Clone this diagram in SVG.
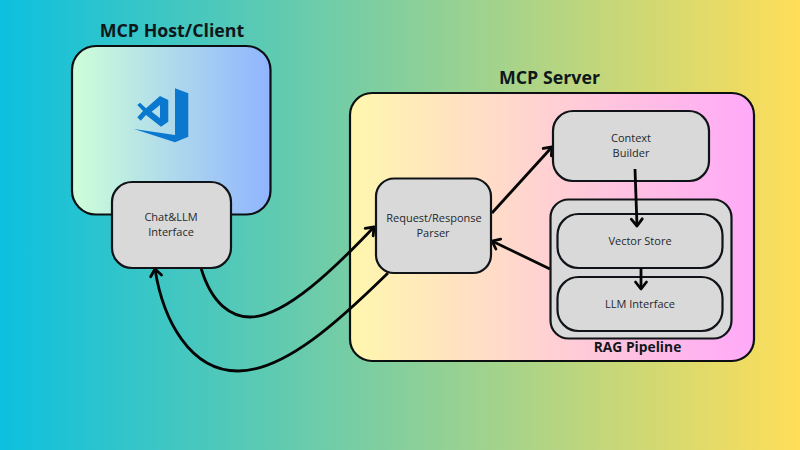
<svg xmlns="http://www.w3.org/2000/svg" width="800" height="450" viewBox="0 0 800 450">
<style>
.box{fill:#d9d9d9;stroke:#101418;stroke-width:2.2}
.panel{stroke:#0c0f12;stroke-width:2.2}
.t{font-family:"Open Sans","Liberation Sans",sans-serif;font-size:11px;fill:#25282a;text-anchor:middle}
.h{font-family:"Open Sans","Liberation Sans",sans-serif;font-size:17.8px;font-weight:700;fill:#10171a;text-anchor:middle}
.c{fill:none;stroke:#050505;stroke-width:2.8;stroke-linecap:butt}
</style>
<defs>
<linearGradient id="bg"><stop offset="0" stop-color="#0cc0df"/><stop offset="1" stop-color="#ffde59"/></linearGradient>
<linearGradient id="host"><stop offset="0" stop-color="#ceffd8"/><stop offset="1" stop-color="#90b4ff"/></linearGradient>
<linearGradient id="srv"><stop offset="0" stop-color="#fff7ad"/><stop offset="1" stop-color="#ffa9f9"/></linearGradient>
<marker id="ah" markerUnits="userSpaceOnUse" markerWidth="16" markerHeight="16" refX="12" refY="8" orient="auto"><path d="M5 2.500L12 8L5 13.500" fill="none" stroke="#050505" stroke-width="2.800" stroke-linecap="round" stroke-linejoin="round"/></marker>
</defs>
<rect width="800" height="450" fill="url(#bg)"/>
<g id="host-client">
<rect class="panel" x="72" y="46" width="198.500" height="168.500" rx="24" fill="url(#host)"/>
<text class="h" x="172" y="36.500">MCP Host/Client</text>
<g id="vscode-logo" fill="#0a78cf">
<path d="M175 88.300L188.300 93.300V136.700L175 142.300L134 129L175 135Z"/>
<path d="M160 96L168.300 100V121.700L161 126.700L146 115L140.700 120.700L137.300 117.300L143 111L137.300 105L140 102.700L146 108.300ZM160 105L151.700 111.700L160 118.300Z" fill-rule="evenodd"/>
</g>
</g>
<g id="mcp-server">
<rect class="panel" x="350" y="93" width="404" height="268" rx="22" fill="url(#srv)"/>
<text class="h" x="549.500" y="83.500">MCP Server</text>
</g>
<g id="connectors">
<path class="c" d="M201 268C212 305 232 317 250 317C285 317 335 268 374 227" marker-end="url(#ah)"/>
<path class="c" d="M388 273C340 320 285 371 238 371C190 371 163 320 155 269" marker-end="url(#ah)"/>
<path class="c" d="M492 213L552 147" marker-end="url(#ah)"/>
<path class="c" d="M550 269L492 241" marker-end="url(#ah)"/>
</g>
<g id="chat-llm"><rect class="box" x="112" y="182" width="119" height="86" rx="20"/><text class="t" x="171" y="221">Chat&amp;LLM</text><text class="t" x="171" y="236">Interface</text></g>
<g id="parser"><rect class="box" x="376" y="178.500" width="115" height="94.500" rx="18"/><text class="t" x="434" y="222">Request/Response</text><text class="t" x="433" y="237">Parser</text></g>
<g id="context-builder"><rect class="box" x="553" y="111" width="156" height="70" rx="20"/><text class="t" x="631" y="142">Context</text><text class="t" x="631" y="157">Builder</text></g>
<g id="rag-pipeline"><rect class="box" x="550.500" y="199.500" width="181" height="139" rx="18"/><text class="h" x="637.500" y="352" style="font-size:13.800px">RAG Pipeline</text></g>
<g id="vector-store"><rect class="box" x="557.500" y="214" width="165" height="54" rx="21"/><text class="t" x="640" y="245">Vector Store</text></g>
<g id="llm-interface"><rect class="box" x="557.500" y="277" width="165" height="54" rx="21"/><text class="t" x="640" y="308">LLM Interface</text></g>
<g id="inner-connectors">
<path class="c" d="M635 169L637 226" marker-end="url(#ah)"/>
<path class="c" d="M641 268V289" marker-end="url(#ah)"/>
</g>
</svg>
